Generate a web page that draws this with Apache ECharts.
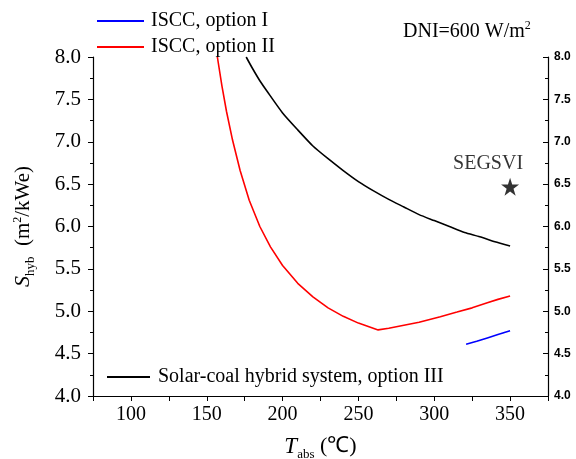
<!DOCTYPE html>
<html><head><meta charset="utf-8">
<script src="https://cdn.jsdelivr.net/npm/echarts@6/dist/echarts.min.js"></script>
<style>html,body{margin:0;padding:0;background:#fff}#c{width:576px;height:459px}</style>
</head><body><div id="c"></div>
<script>
const blueT = [321, 328, 335, 342, 350];
const blueS = [4.61, 4.645, 4.685, 4.725, 4.77];
const redT = [157, 160, 163, 167, 172, 178, 185, 192, 200, 210, 220, 230, 240, 250, 263, 270, 280, 290, 304, 315, 325, 335, 342, 350];
const redS = [8.0, 7.66, 7.36, 7.02, 6.66, 6.31, 6.00, 5.76, 5.54, 5.33, 5.17, 5.04, 4.94, 4.86, 4.78, 4.80, 4.835, 4.87, 4.936, 4.99, 5.04, 5.10, 5.14, 5.18];
const blackT = [176, 180, 185, 190, 200, 210, 220, 230, 240, 250, 260, 270, 280, 290, 300, 310, 320, 330, 340, 350];
const blackS = [8.0, 7.87, 7.72, 7.59, 7.34, 7.14, 6.95, 6.80, 6.66, 6.53, 6.42, 6.32, 6.23, 6.14, 6.07, 6.00, 5.93, 5.88, 5.82, 5.77];
const starPt = [350, 6.47];
const names = ['ISCC, option I', 'ISCC, option II', 'Solar-coal hybrid system, option III'];
const xTickLabels = [100, 150, 200, 250, 300, 350];

const zip = (a, b) => a.map((v, i) => [v, b[i]]);
const serif = 'Liberation Serif';
const chart = echarts.init(document.getElementById('c'));
const starPath = 'path://M50,0 L61.8,36.2 L100,36.2 L69.1,58.8 L80.9,95.1 L50,72.7 L19.1,95.1 L30.9,58.8 L0,36.2 L38.2,36.2 Z';
chart.setOption({
  animation: false,
  grid: {left: 93, right: 28, top: 57, bottom: 63, containLabel: false, outerBoundsMode: 'none'},
  legend: [{
    data: [names[0], names[1]], orient: 'vertical', left: 92, top: 6, itemGap: 6,
    itemWidth: 47, itemHeight: 2, icon: 'rect',
    textStyle: {fontFamily: serif, fontSize: 20, color: '#000', padding: [0, 0, 0, 2]}
  }, {
    data: [names[2]], left: 102, top: 362, itemWidth: 43, itemHeight: 2, icon: 'rect',
    textStyle: {fontFamily: serif, fontSize: 20, color: '#000', padding: [0, 0, 0, 3]}
  }],
  xAxis: {
    type: 'value', min: 75, max: 375, interval: 25,
    name: '{i|T}{s|abs}{n| (℃)}', nameLocation: 'middle', nameGap: 36,
    nameTextStyle: {rich: {
      i: {fontFamily: serif, fontStyle: 'italic', fontSize: 23, color: '#000'},
      s: {fontFamily: serif, fontSize: 13, color: '#000', padding: [16, 0, 0, 0]},
      n: {fontFamily: serif, fontSize: 22, color: '#000'}
    }},
    axisLine: {lineStyle: {color: '#000', width: 1.2}},
    axisTick: {inside: false, length: 5, lineStyle: {color: '#000'}},
    axisLabel: {fontFamily: serif, fontSize: 20, color: '#000', margin: 9,
      formatter: v => xTickLabels.includes(v) ? String(v) : ''},
    splitLine: {show: false}
  },
  yAxis: [{
    type: 'value', min: 4, max: 8, interval: 0.5, position: 'left',
    name: '{i|S}{s|hyb}{n|  (m}{p|2}{n|/kWe)}', nameLocation: 'middle', nameGap: 56, nameRotate: 90,
    nameTextStyle: {rich: {
      i: {fontFamily: serif, fontStyle: 'italic', fontSize: 22, color: '#000'},
      s: {fontFamily: serif, fontSize: 13, color: '#000', padding: [14, 0, 0, 0]},
      n: {fontFamily: serif, fontSize: 21, color: '#000'},
      p: {fontFamily: serif, fontSize: 12, color: '#000', padding: [0, 0, 12, 0]}
    }},
    axisLine: {show: true, lineStyle: {color: '#000', width: 1.2}},
    axisTick: {show: true, inside: false, length: 5, lineStyle: {color: '#000'}},
    minorTick: {show: true, splitNumber: 2, length: 3, lineStyle: {color: '#000'}},
    axisLabel: {fontFamily: serif, fontSize: 21, color: '#000', margin: 12, formatter: v => v.toFixed(1)},
    splitLine: {show: false}
  }, {
    type: 'value', min: 4, max: 8, interval: 0.5, position: 'right',
    axisLine: {show: true, lineStyle: {color: '#000', width: 1.2}},
    axisTick: {show: true, inside: true, length: 5, lineStyle: {color: '#000'}},
    minorTick: {show: true, splitNumber: 2, length: 3, lineStyle: {color: '#000'}},
    axisLabel: {fontFamily: 'Liberation Sans', fontWeight: 'bold', fontSize: 12, color: '#000', margin: 6, formatter: v => v.toFixed(1)},
    splitLine: {show: false}
  }],
  graphic: [{
    type: 'text', left: 403, top: 20,
    style: {text: '{n|DNI=600 W/m}{p|2}', rich: {
      n: {fontFamily: serif, fontSize: 20, fill: '#000'},
      p: {fontFamily: serif, fontSize: 12, fill: '#000', padding: [0, 0, 12, 0]}
    }}
  }],
  series: [
    {name: names[0], type: 'line', data: zip(blueT, blueS), showSymbol: false, symbol: 'none',
      lineStyle: {color: '#0000ff', width: 1.6}, itemStyle: {color: '#0000ff'}},
    {name: names[1], type: 'line', data: zip(redT, redS), showSymbol: false, symbol: 'none',
      lineStyle: {color: '#ff0000', width: 1.6}, itemStyle: {color: '#ff0000'}},
    {name: names[2], type: 'line', data: zip(blackT, blackS), showSymbol: false, symbol: 'none', smooth: 0.2,
      lineStyle: {color: '#000', width: 1.6}, itemStyle: {color: '#000'}},
    {name: 'SEGSVI', type: 'scatter', data: [starPt], symbol: starPath, symbolSize: 18,
      itemStyle: {color: '#000'},
      label: {show: true, formatter: 'SEGSVI', position: 'top', distance: 4, offset: [-22, 0],
        fontFamily: serif, fontSize: 20, color: '#000'}}
  ]
});
</script></body></html>
